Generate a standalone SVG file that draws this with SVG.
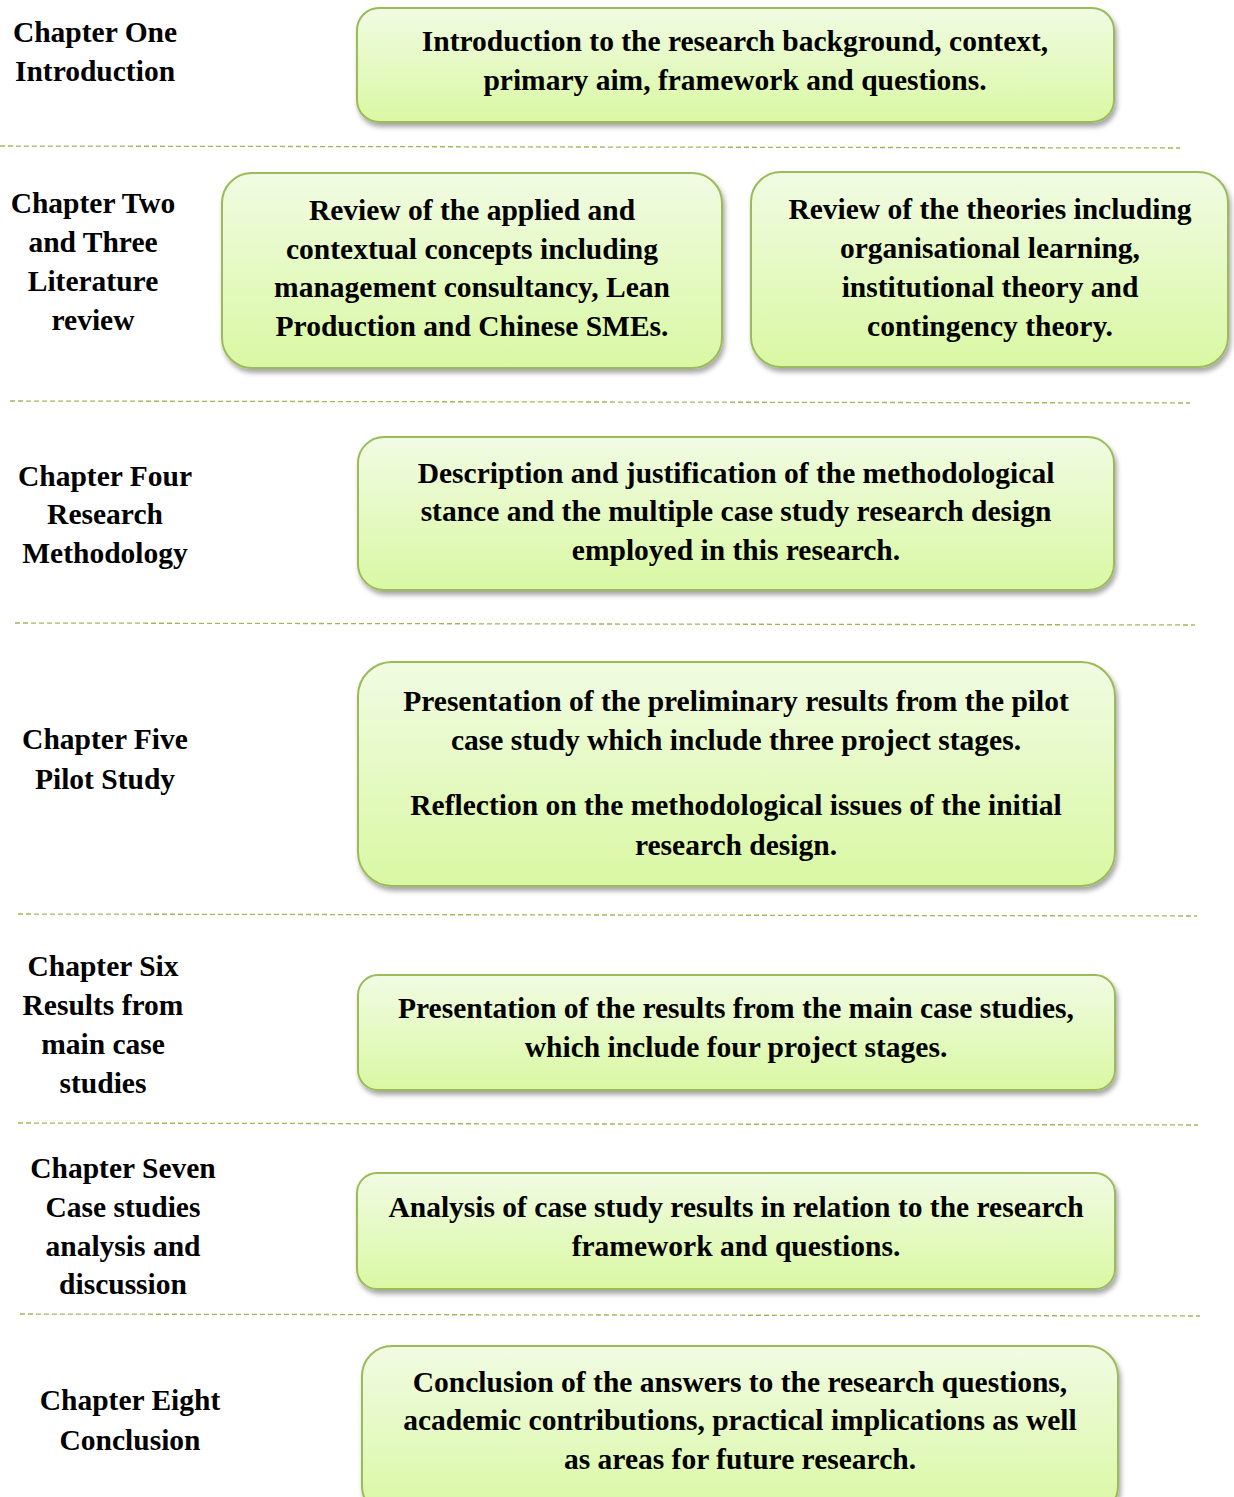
<svg xmlns="http://www.w3.org/2000/svg" width="1234" height="1497" viewBox="0 0 1234 1497">
  <defs>
    <linearGradient id="boxFill" x1="0" y1="0" x2="0" y2="1">
      <stop offset="0" stop-color="#f1fbe3"/>
      <stop offset="1" stop-color="#d9f8a3"/>
    </linearGradient>
    <filter id="shadow" x="-5%" y="-10%" width="112%" height="125%">
      <feDropShadow dx="2" dy="4" stdDeviation="2.5" flood-color="#000" flood-opacity="0.35"/>
    </filter>
  </defs>
  <style>
    .box { fill: url(#boxFill); stroke: #9bbb59; stroke-width: 2; filter: url(#shadow); }
    .sep { stroke: #9bbb59; stroke-width: 1.3; stroke-dasharray: 5 3; fill: none; }
    text { font-family: "Liberation Serif", "Times New Roman", serif; font-weight: bold; font-size: 29.5px; fill: #000; text-anchor: middle; }
  </style>

  <rect width="1234" height="1497" fill="#fff"/>

  <!-- section separators -->
  <g id="connectors">
    <line class="sep" x1="0" y1="146" x2="1180" y2="148"/>
    <line class="sep" x1="10" y1="401" x2="1190" y2="403"/>
    <line class="sep" x1="15" y1="623" x2="1195" y2="625"/>
    <line class="sep" x1="18" y1="914" x2="1197" y2="916"/>
    <line class="sep" x1="18" y1="1123" x2="1198" y2="1125"/>
    <line class="sep" x1="20" y1="1314" x2="1200" y2="1316"/>
  </g>

  <!-- chapter labels; all text shifted by 1px -->
  <g transform="translate(0,1)">
  <g id="label-ch1">
    <text x="95" y="41">Chapter One</text>
    <text x="95" y="80">Introduction</text>
  </g>
  <g id="label-ch2-3">
    <text x="93" y="212">Chapter Two</text>
    <text x="93" y="251">and Three</text>
    <text x="93" y="290">Literature</text>
    <text x="93" y="329">review</text>
  </g>
  <g id="label-ch4">
    <text x="105" y="485">Chapter Four</text>
    <text x="105" y="523">Research</text>
    <text x="105" y="562">Methodology</text>
  </g>
  <g id="label-ch5">
    <text x="105" y="748">Chapter Five</text>
    <text x="105" y="788">Pilot Study</text>
  </g>
  <g id="label-ch6">
    <text x="103" y="975">Chapter Six</text>
    <text x="103" y="1014">Results from</text>
    <text x="103" y="1053">main case</text>
    <text x="103" y="1092">studies</text>
  </g>
  <g id="label-ch7">
    <text x="123" y="1177">Chapter Seven</text>
    <text x="123" y="1216">Case studies</text>
    <text x="123" y="1255">analysis and</text>
    <text x="123" y="1293">discussion</text>
  </g>
  <g id="label-ch8">
    <text x="130" y="1409">Chapter Eight</text>
    <text x="130" y="1449">Conclusion</text>
  </g>
  </g>

  <!-- content boxes -->
  <g id="box-ch1">
    <rect class="box" x="357" y="8" width="757" height="114" rx="22"/>
    <text x="735" y="51">Introduction to the research background, context,</text>
    <text x="735" y="90">primary aim, framework and questions.</text>
  </g>
  <g id="box-ch2-concepts">
    <rect class="box" x="222" y="173" width="500" height="195" rx="30"/>
    <text x="472" y="220">Review of the applied and</text>
    <text x="472" y="259">contextual concepts including</text>
    <text x="472" y="297">management consultancy, Lean</text>
    <text x="472" y="336">Production and Chinese SMEs.</text>
  </g>
  <g id="box-ch3-theories">
    <rect class="box" x="751" y="172" width="477" height="195" rx="30"/>
    <text x="990" y="219">Review of the theories including</text>
    <text x="990" y="258">organisational learning,</text>
    <text x="990" y="297">institutional theory and</text>
    <text x="990" y="336">contingency theory.</text>
  </g>
  <g id="box-ch4">
    <rect class="box" x="358" y="437" width="756" height="153" rx="26"/>
    <text x="736" y="483">Description and justification of the methodological</text>
    <text x="736" y="521">stance and the multiple case study research design</text>
    <text x="736" y="560">employed in this research.</text>
  </g>
  <g id="box-ch5">
    <rect class="box" x="358" y="662" width="757" height="224" rx="34"/>
    <text x="736" y="711">Presentation of the preliminary results from the pilot</text>
    <text x="736" y="750">case study which include three project stages.</text>
    <text x="736" y="815">Reflection on the methodological issues of the initial</text>
    <text x="736" y="855">research design.</text>
  </g>
  <g id="box-ch6">
    <rect class="box" x="358" y="975" width="757" height="115" rx="20"/>
    <text x="736" y="1018">Presentation of the results from the main case studies,</text>
    <text x="736" y="1057">which include four project stages.</text>
  </g>
  <g id="box-ch7">
    <rect class="box" x="357" y="1173" width="758" height="116" rx="20"/>
    <text x="736" y="1217">Analysis of case study results in relation to the research</text>
    <text x="736" y="1256">framework and questions.</text>
  </g>
  <g id="box-ch8">
    <rect class="box" x="362" y="1346" width="756" height="170" rx="30"/>
    <text x="740" y="1392">Conclusion of the answers to the research questions,</text>
    <text x="740" y="1430">academic contributions, practical implications as well</text>
    <text x="740" y="1469">as areas for future research.</text>
  </g>
</svg>
